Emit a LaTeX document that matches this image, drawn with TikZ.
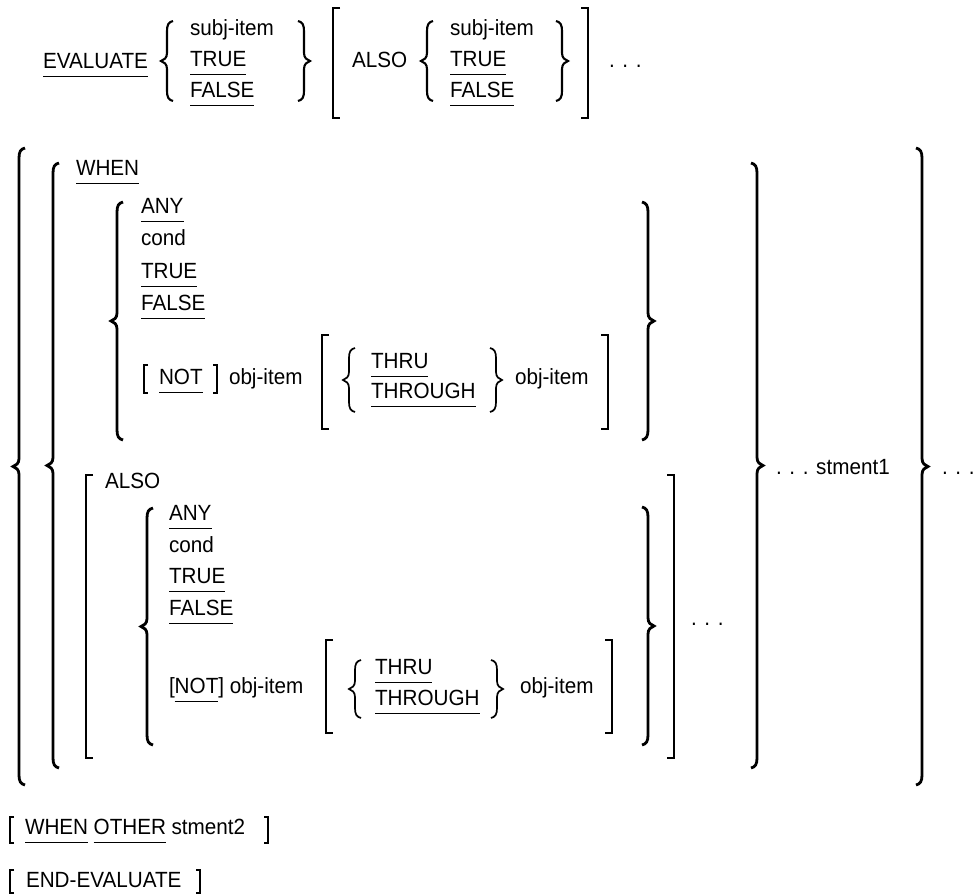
\documentclass[tikz,border=0pt]{standalone}
\usepackage{fontspec}
\setmainfont{Liberation Sans}[FakeStretch=0.94]
% left brace: x of stem, top, bottom, style
\newcommand\Lbr[4]{%
  \pgfmathsetmacro\mymid{(#2+#3)/2}%
  \draw[#4] ({#1+6},#2) .. controls ({#1+1.5},{#2+1}) and (#1,{#2+4}) .. (#1,{#2+10})
    -- (#1,{\mymid-8}) .. controls (#1,{\mymid-3}) and ({#1-3},{\mymid-1}) .. ({#1-6},\mymid)
    .. controls ({#1-3},{\mymid+1}) and (#1,{\mymid+3}) .. (#1,{\mymid+8})
    -- (#1,{#3-10}) .. controls (#1,{#3-4}) and ({#1+1.5},{#3-1}) .. ({#1+6},#3);}
% right brace
\newcommand\Rbr[4]{%
  \pgfmathsetmacro\mymid{(#2+#3)/2}%
  \draw[#4] ({#1-6},#2) .. controls ({#1-1.5},{#2+1}) and (#1,{#2+4}) .. (#1,{#2+10})
    -- (#1,{\mymid-8}) .. controls (#1,{\mymid-3}) and ({#1+3},{\mymid-1}) .. ({#1+6},\mymid)
    .. controls ({#1+3},{\mymid+1}) and (#1,{\mymid+3}) .. (#1,{\mymid+8})
    -- (#1,{#3-10}) .. controls (#1,{#3-4}) and ({#1-1.5},{#3-1}) .. ({#1-6},#3);}
% brackets: x, top, bottom, serif, style
\newcommand\Lbk[5]{\draw[#5] ({#1+#4},#2) -- (#1,#2) -- (#1,#3) -- ({#1+#4},#3);}
\newcommand\Rbk[5]{\draw[#5] ({#1-#4},#2) -- (#1,#2) -- (#1,#3) -- ({#1-#4},#3);}
\newcommand\undl[1]{\draw[uline] ([yshift=-8.5pt]#1.base west) -- ([yshift=-8.5pt]#1.base east);}
\begin{document}
\begin{tikzpicture}[x=1pt,y=-1pt,
  txt/.style={font=\fontsize{22}{26}\selectfont, inner sep=0pt, outer sep=0pt, anchor=base west},
  uline/.style={line width=1.9pt},
  bigbrace/.style={line width=2.8pt},
  topbrace/.style={line width=2.1pt},
  smallbrace/.style={line width=1.7pt},
  bigbrack/.style={line width=2.6pt},
  thinbrack/.style={line width=1.1pt}]
\useasboundingbox (0,0) rectangle (974,894);

% ---------- top row ----------
\node[txt] (ev) at (43,68) {EVALUATE}; \undl{ev}
\Lbr{167}{21}{101}{topbrace}
\node[txt] (s1) at (190,35) {subj-item};
\node[txt] (t1) at (190,66) {TRUE}; \undl{t1}
\node[txt] (f1) at (190,97) {FALSE}; \undl{f1}
\Rbr{304}{21}{101}{topbrace}
\Lbk{333}{8}{118}{7}{bigbrack}
\node[txt] (al1) at (352,67) {ALSO};
\Lbr{427}{21}{101}{topbrace}
\node[txt] (s2) at (450,35) {subj-item};
\node[txt] (t2) at (450,66) {TRUE}; \undl{t2}
\node[txt] (f2) at (450,97) {FALSE}; \undl{f2}
\Rbr{562}{21}{101}{topbrace}
\Rbk{588}{8}{118}{7}{bigbrack}
\node[txt] (d1) at (609,67) {. . .};

% ---------- outer braces ----------
\Lbr{19}{148}{785}{bigbrace}
\Lbr{53}{163}{768}{bigbrace}
\Rbr{757}{163}{768}{bigbrace}
\Rbr{922}{148}{785}{bigbrace}
\node[txt] (st1) at (776,474) {. . . stment1};
\node[txt] (d4) at (942,474) {. . .};

% ---------- WHEN part ----------
\node[txt] (wh) at (76,175) {WHEN}; \undl{wh}
\Lbr{117}{202}{440}{bigbrace}
\node[txt] (an1) at (141,213) {ANY}; \undl{an1}
\node[txt] (co1) at (141,245) {cond};
\node[txt] (tr1) at (141,278) {TRUE}; \undl{tr1}
\node[txt] (fa1) at (141,310) {FALSE}; \undl{fa1}
\Lbk{144}{365}{393}{4}{thinbrack}
\node[txt] (no1) at (159,384) {NOT}; \undl{no1}
\Rbk{217}{365}{393}{4}{thinbrack}
\node[txt] (ob1) at (229,384) {obj-item};
\Lbk{322}{335}{429}{7}{bigbrack}
\Lbr{349}{348}{412}{smallbrace}
\node[txt] (th1) at (371,368) {THRU}; \undl{th1}
\node[txt] (tg1) at (371,398) {THROUGH}; \undl{tg1}
\Rbr{496}{348}{412}{smallbrace}
\node[txt] (ob2) at (515,384) {obj-item};
\Rbk{608}{335}{429}{7}{bigbrack}
\Rbr{648}{202}{440}{bigbrace}

% ---------- ALSO part ----------
\Lbk{86}{475}{758}{7}{bigbrack}
\node[txt] (al2) at (105,488) {ALSO};
\Lbr{147}{508}{745}{bigbrace}
\node[txt] (an2) at (169,520) {ANY}; \undl{an2}
\node[txt] (co2) at (169,552) {cond};
\node[txt] (tr2) at (169,583) {TRUE}; \undl{tr2}
\node[txt] (fa2) at (169,615) {FALSE}; \undl{fa2}
\node[txt] (lb2) at (169,693) {[};
\node[txt] (no2) at (lb2.base east) {NOT}; \undl{no2}
\node[txt] (rb2) at (no2.base east) {] obj-item};
\Lbk{326}{640}{733}{7}{bigbrack}
\Lbr{355}{660}{718}{smallbrace}
\node[txt] (th2) at (375,674) {THRU}; \undl{th2}
\node[txt] (tg2) at (375,705) {THROUGH}; \undl{tg2}
\Rbr{497}{660}{718}{smallbrace}
\node[txt] (ob3) at (520,693) {obj-item};
\Rbk{612}{640}{733}{7}{bigbrack}
\Rbr{648}{507}{745}{bigbrace}
\Rbk{674}{475}{758}{7}{bigbrack}
\node[txt] (d3) at (691,625) {. . .};

% ---------- bottom rows ----------
\Lbk{10}{817}{843}{4}{thinbrack}
\node[txt] (wh2) at (25,834) {WHEN}; \undl{wh2}
\node[txt] (ot) at ([xshift=5.5pt]wh2.base east) {OTHER}; \undl{ot}
\node[txt] (st2) at ([xshift=5.5pt]ot.base east) {stment2};
\Rbk{268}{817}{843}{4}{thinbrack}
\Lbk{10}{870}{893}{4}{thinbrack}
\node[txt] (ee) at (26,887) {END-EVALUATE};
\Rbk{200}{870}{893}{4}{thinbrack}
\end{tikzpicture}
\end{document}
